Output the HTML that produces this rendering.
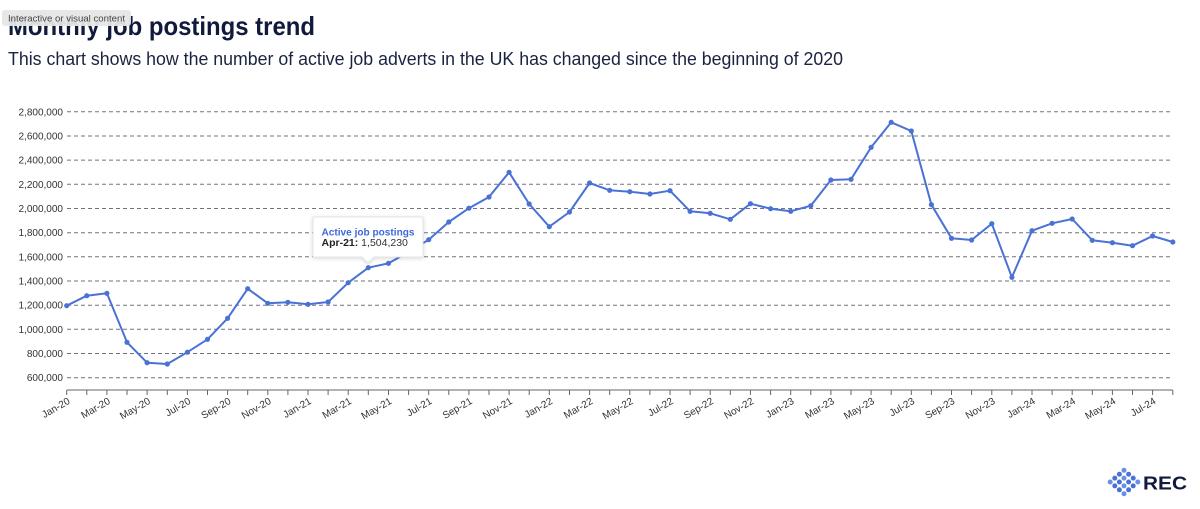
<!DOCTYPE html>
<html>
<head>
<meta charset="utf-8">
<style>
  html,body{margin:0;padding:0;background:#fff;}
  body{width:1200px;height:509px;overflow:hidden;font-family:"Liberation Sans",sans-serif;}
  svg{display:block;}
</style>
</head>
<body>
<svg width="1200" height="509" viewBox="0 0 1200 509" xmlns="http://www.w3.org/2000/svg" font-family="Liberation Sans, sans-serif">
  <!-- Title -->
  <text x="8" y="35" font-size="26" font-weight="bold" fill="#111a3d" textLength="307" lengthAdjust="spacingAndGlyphs">Monthly job postings trend</text>
  <text x="8" y="65" font-size="18" fill="#1a2340" textLength="835" lengthAdjust="spacingAndGlyphs">This chart shows how the number of active job adverts in the UK has changed since the beginning of 2020</text>
  <!-- badge -->
  <rect x="2" y="10" width="129" height="16" rx="3" fill="#e6e6e6" opacity="0.95"/>
  <text x="8" y="21.5" font-size="9" fill="#444" textLength="117" lengthAdjust="spacingAndGlyphs">Interactive or visual content</text>

  <!-- gridlines -->
  <g stroke="#727284" stroke-width="1" stroke-dasharray="4,3">
    <line x1="67" x2="1172" y1="111.8" y2="111.8"/>
    <line x1="67" x2="1172" y1="136.0" y2="136.0"/>
    <line x1="67" x2="1172" y1="160.1" y2="160.1"/>
    <line x1="67" x2="1172" y1="184.3" y2="184.3"/>
    <line x1="67" x2="1172" y1="208.5" y2="208.5"/>
    <line x1="67" x2="1172" y1="232.7" y2="232.7"/>
    <line x1="67" x2="1172" y1="256.8" y2="256.8"/>
    <line x1="67" x2="1172" y1="281.0" y2="281.0"/>
    <line x1="67" x2="1172" y1="305.2" y2="305.2"/>
    <line x1="67" x2="1172" y1="329.3" y2="329.3"/>
    <line x1="67" x2="1172" y1="353.5" y2="353.5"/>
    <line x1="67" x2="1172" y1="377.7" y2="377.7"/>
  </g>
  <!-- y labels -->
  <g font-size="10" fill="#333" text-anchor="end">
    <text x="63" y="115.3">2,800,000</text>
    <text x="63" y="139.5">2,600,000</text>
    <text x="63" y="163.6">2,400,000</text>
    <text x="63" y="187.8">2,200,000</text>
    <text x="63" y="212.0">2,000,000</text>
    <text x="63" y="236.2">1,800,000</text>
    <text x="63" y="260.3">1,600,000</text>
    <text x="63" y="284.5">1,400,000</text>
    <text x="63" y="308.7">1,200,000</text>
    <text x="63" y="332.8">1,000,000</text>
    <text x="63" y="357.0">800,000</text>
    <text x="63" y="381.2">600,000</text>
  </g>

  <!-- x axis -->
  <line x1="66.7" x2="1172.7" y1="390" y2="390" stroke="#666" stroke-width="1"/>
  <g id="ticks" stroke="#666" stroke-width="1"></g>
  <g id="xlabels" font-size="10" fill="#333" text-anchor="end"></g>

  <!-- series -->
  <polyline id="series" fill="none" stroke="#4a72d4" stroke-width="2" stroke-linejoin="round"/>
  <g id="dots" fill="#4a72d4"></g>

  <!-- tooltip -->
  <g>
    <path d="M313,217 H423 V257 H374 L368,263 L362,257 H313 Z" fill="#fff" stroke="#e4e4e4" stroke-width="1" style="filter:drop-shadow(0 1px 2px rgba(0,0,0,0.15))"/>
    <text x="321.5" y="235.3" font-size="10.5" font-weight="bold" fill="#3d6ad6" textLength="93" lengthAdjust="spacingAndGlyphs">Active job postings</text>
    <text x="321.5" y="245.8" font-size="10.5" fill="#333"><tspan font-weight="bold" fill="#222">Apr-21:</tspan> 1,504,230</text>
  </g>

  <!-- logo -->
  <g id="logo" fill="#4a72d4"></g>
  <text x="1143" y="489.5" font-size="18.5" font-weight="bold" fill="#111a3d" textLength="44" lengthAdjust="spacingAndGlyphs">REC</text>
</svg>
<script>
(function(){
  var ys=[305.7,295.7,293.3,342.3,362.7,364,352.2,339.3,318.3,288.7,303.3,302.3,304.3,302,282.7,267.7,263.3,252,239.7,222,208.2,197,172.3,204,226.7,212,183,190.3,191.7,194,190.7,211.3,213.3,219.3,203.7,208.7,211.3,205.7,180,179.3,147.3,122.3,131,204.7,238.3,240,223.7,277.3,230.7,223.3,219,240.3,242.7,245.7,236,242];
  var ns="http://www.w3.org/2000/svg";
  var pts=[],dots=document.getElementById('dots'),ticks=document.getElementById('ticks'),xl=document.getElementById('xlabels');
  var months=["Jan","Feb","Mar","Apr","May","Jun","Jul","Aug","Sep","Oct","Nov","Dec"];
  for(var i=0;i<ys.length;i++){
    var x=66.7+i*20.11;
    pts.push(x.toFixed(1)+","+ys[i]);
    var c=document.createElementNS(ns,'circle');
    c.setAttribute('cx',x.toFixed(1));c.setAttribute('cy',ys[i]);c.setAttribute('r','2.6');
    dots.appendChild(c);
    var t=document.createElementNS(ns,'line');
    t.setAttribute('x1',x.toFixed(1));t.setAttribute('x2',x.toFixed(1));t.setAttribute('y1','390');t.setAttribute('y2','395');
    ticks.appendChild(t);
    if(i%2===0 && i<=54){
      var m=months[i%12], yr=20+Math.floor(i/12);
      var tx=document.createElementNS(ns,'text');
      var ax=x+4, ay=403;
      tx.setAttribute('x',ax.toFixed(1));tx.setAttribute('y',ay);
      tx.setAttribute('transform','rotate(-30 '+ax.toFixed(1)+' '+ay+')');
      tx.textContent=m+"-"+yr;
      xl.appendChild(tx);
    }
  }
  document.getElementById('series').setAttribute('points',pts.join(' '));
  var lg=document.getElementById('logo');
  var cx=1124,cy=482;
  for(var dy=-3;dy<=3;dy++){
    for(var dx=-3;dx<=3;dx++){
      if(Math.abs(dx)+Math.abs(dy)<=3 && ((dx+dy)%2+2)%2===1){
        var d=document.createElementNS(ns,'circle');
        d.setAttribute('cx',cx+dx*4.6);d.setAttribute('cy',cy+dy*3.9);d.setAttribute('r','2.5');
        if((dx+dy*3)%3===0) d.setAttribute('fill','#6b8fe6');
        lg.appendChild(d);
      }
    }
  }
})();
</script>
</body>
</html>
